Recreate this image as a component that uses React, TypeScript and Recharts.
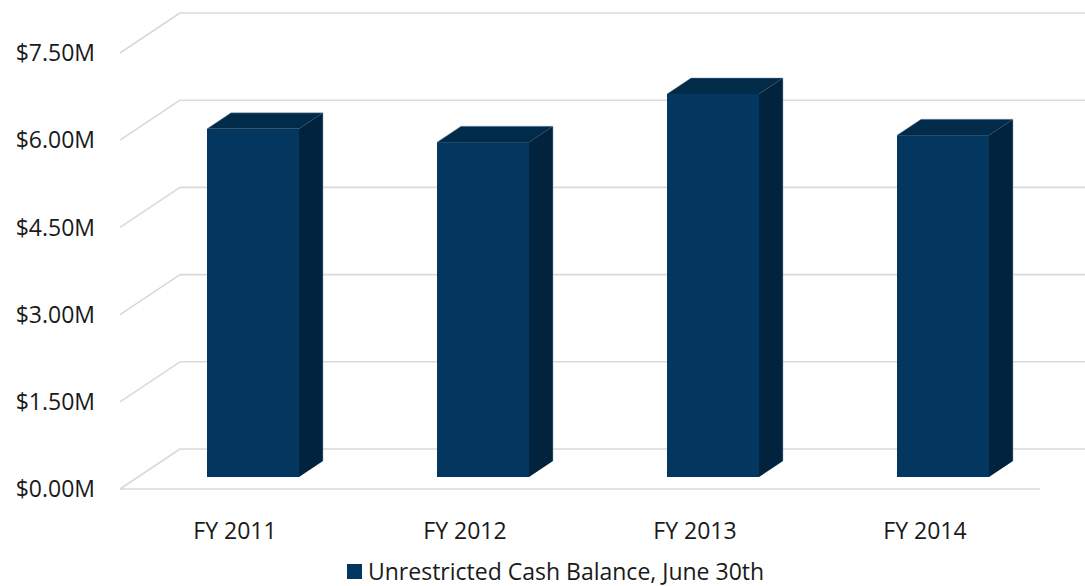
import { Bar, BarChart, CartesianGrid, XAxis, YAxis } from "recharts";

const years = ["FY 2011", "FY 2012", "FY 2013", "FY 2014"];
const cashBalance = [5.99, 5.76, 6.59, 5.88];
const yTicks = [0, 1.5, 3, 4.5, 6, 7.5];
const seriesName = "Unrestricted Cash Balance, June 30th";

const data = years.map((name, i) => ({ name, cash: cashBalance[i] }));

// oblique depth of the 3d box: back wall sits 60px right, 40px up
const DX = 60;
const DY = 40;
const FONT = "'Open Sans', sans-serif";
const FS = 23;

const GridLine = (props: any) => {
  const { x1, x2, y1, index } = props;
  const isFloor = index === 0;
  return (
    <g key={`g-${index}`}>
      <line x1={x1} y1={y1} x2={x1 + DX} y2={y1 - DY} stroke="#d9d9d9" strokeWidth={1.6} />
      <line x1={x1 + DX} y1={y1 - DY} x2={x2 + DX} y2={y1 - DY} stroke="#d9d9d9" strokeWidth={1.6} />
      {isFloor && <line x1={x1} y1={y1} x2={x2} y2={y1} stroke="#d9d9d9" strokeWidth={1.6} />}
    </g>
  );
};

const Box = (props: any) => {
  const { x, y, width: w, height: h } = props;
  if (h == null || h <= 0) return null;
  const fx = 0.3 * DX;
  const fy = 0.3 * DY;
  const bx = 0.7 * DX;
  const by = 0.7 * DY;
  const top = [
    [x + fx, y - fy],
    [x + w + fx, y - fy],
    [x + w + bx, y - by],
    [x + bx, y - by],
  ];
  const side = [
    [x + w + fx, y - fy],
    [x + w + bx, y - by],
    [x + w + bx, y + h - by],
    [x + w + fx, y + h - fy],
  ];
  const pts = (p: number[][]) => p.map((q) => q.join(",")).join(" ");
  return (
    <g>
      <rect x={x + fx} y={y - fy} width={w} height={h} fill="#03375f" />
      <polygon points={pts(top)} fill="#022b4a" />
      <polygon points={pts(side)} fill="#01233d" />
      <polyline
        points={pts([top[0], top[3], top[2], side[2]])}
        fill="none"
        stroke="#8da3b8"
        strokeWidth={0.8}
        strokeOpacity={0.6}
      />
    </g>
  );
};

export default function App() {
  return (
    <div style={{ position: "relative", width: 1085, height: 586 }}>
      <style>{"body{margin:0}"}</style>
      <BarChart
        width={1085}
        height={586}
        data={data}
        margin={{ top: 53, right: 45, bottom: 57, left: 0 }}
        barCategoryGap="30%"
      >
        <CartesianGrid vertical={false} horizontal={GridLine} />
        <XAxis
          dataKey="name"
          axisLine={false}
          tickLine={false}
          tickSize={0}
          tickMargin={34}
          height={40}
          tick={{ fill: "#1a1a1a", fontSize: FS, fontFamily: FONT }}
        />
        <YAxis
          width={120}
          domain={[0, 7.5]}
          ticks={yTicks}
          axisLine={false}
          tickLine={false}
          tickSize={0}
          tickMargin={25}
          tickFormatter={(v: number) => `$${v.toFixed(2)}M`}
          tick={{ fill: "#1a1a1a", fontSize: FS, fontFamily: FONT }}
        />
        <Bar dataKey="cash" name={seriesName} shape={<Box />} isAnimationActive={false} />
      </BarChart>
      <div
        style={{
          position: "absolute",
          left: 347,
          top: 556,
          display: "flex",
          alignItems: "center",
          fontFamily: FONT,
          fontSize: FS,
          color: "#1a1a1a",
          lineHeight: "30px",
        }}
      >
        <span style={{ width: 15, height: 15, background: "#03375f", marginRight: 6, display: "inline-block" }} />
        <span>{seriesName}</span>
      </div>
    </div>
  );
}
